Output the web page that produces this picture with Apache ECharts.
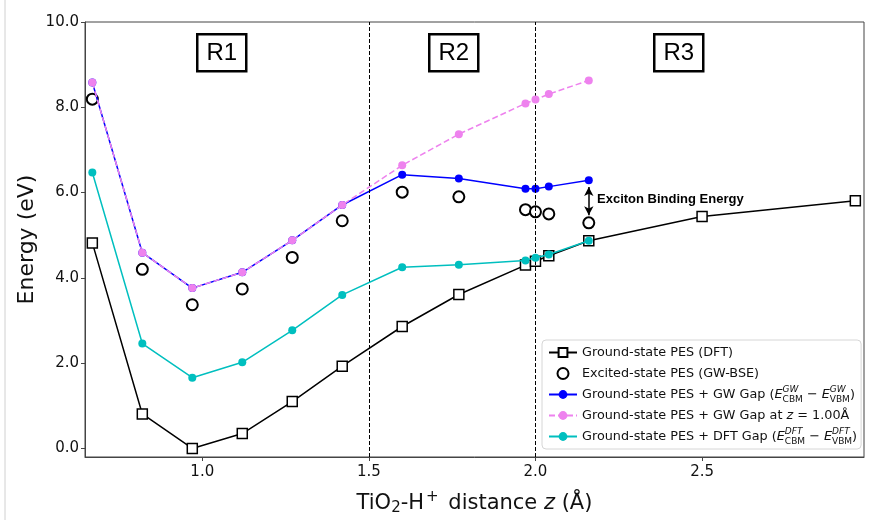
<!DOCTYPE html>
<html>
<head>
<meta charset="utf-8">
<script src="https://cdn.jsdelivr.net/npm/echarts@6/dist/echarts.min.js"></script>
<style>html,body{margin:0;padding:0;background:#fff}#c{width:875px;height:520px}</style>
</head>
<body>
<div id="c"></div>
<script>
// ---- data ----
const zValues = [0.67, 0.82, 0.97, 1.12, 1.27, 1.42, 1.60, 1.77, 1.97, 2.00, 2.04, 2.16, 2.50, 2.96];
const groundDFT = [4.82, 0.81, 0.00, 0.35, 1.10, 1.93, 2.86, 3.61, 4.30, 4.39, 4.52, 4.87, 5.44, 5.81];
const excitedGWBSE = [8.19, 4.20, 3.37, 3.74, 4.48, 5.34, 6.01, 5.90, 5.60, 5.55, 5.50, 5.29];
const groundPlusGW = [8.58, 4.59, 3.76, 4.13, 4.88, 5.71, 6.42, 6.33, 6.09, 6.09, 6.14, 6.29];
const groundPlusGWFixed = [8.58, 4.59, 3.76, 4.13, 4.88, 5.71, 6.64, 7.37, 8.09, 8.18, 8.31, 8.63];
const groundPlusDFT = [6.47, 2.46, 1.66, 2.02, 2.77, 3.60, 4.25, 4.31, 4.41, 4.47, 4.55, 4.87];
const xTicks = [1.0, 1.5, 2.0, 2.5];
const yTicks = [0, 2, 4, 6, 8, 10];
const regionBounds = [1.5, 2.0];
const regionNames = ['R1', 'R2', 'R3'];
const seriesNames = [
  'Ground-state PES (DFT)',
  'Excited-state PES (GW-BSE)',
  'Ground-state PES + GW Gap',
  'Ground-state PES + GW Gap at z',
  'Ground-state PES + DFT Gap'
];
const legendTexts = {
  [seriesNames[0]]: 'Ground-state PES (DFT)',
  [seriesNames[1]]: 'Excited-state PES (GW-BSE)',
  [seriesNames[2]]: 'Ground-state PES + GW Gap ({it|E}{sup|GW}{sub|CBM} − {it|E}{sup|GW}{sub|VBM})',
  [seriesNames[3]]: 'Ground-state PES + GW Gap at {it|z} = 1.00Å',
  [seriesNames[4]]: 'Ground-state PES + DFT Gap ({it|E}{sup|DFT}{sub|CBM} − {it|E}{sup|DFT}{sub|VBM})'
};
const pair = (ys) => ys.map((y, i) => [zValues[i], y]);

const FONT = 'DejaVu Sans';
const LFS = 12.8;
const chart = echarts.init(document.getElementById('c'), null, {renderer: 'canvas'});

const option = {
  animation: false,
  backgroundColor: '#fff',
  grid: {left: 85, right: 11, top: 22, bottom: 63, show: true, borderColor: '#444', borderWidth: 1,
    containLabel: false, outerBoundsMode: 'none'},
  xAxis: {
    type: 'value', min: 0.648, max: 2.986,
    axisLine: {show: true, onZero: false, lineStyle: {color: '#444', width: 1}},
    axisTick: {show: true, customValues: xTicks, length: 4, lineStyle: {color: '#444'}},
    axisLabel: {customValues: xTicks, color: '#111', fontFamily: FONT, fontSize: 15, margin: 8,
      formatter: v => v.toFixed(1)},
    splitLine: {show: false},
    name: 'TiO{sub|2}-H{sup|+} distance {it|z} (Å)',
    nameLocation: 'middle', nameGap: 33,
    nameTextStyle: {color: '#111', fontFamily: FONT, fontSize: 21,
      rich: {
        sub: {fontSize: 15, fontFamily: FONT, color: '#111', padding: [10, 0, 0, 0]},
        sup: {fontSize: 15, fontFamily: FONT, color: '#111', padding: [0, 3, 12, 2]},
        it: {fontSize: 21, fontFamily: FONT, fontStyle: 'italic', color: '#111'}
      }}
  },
  yAxis: {
    type: 'value', min: -0.2, max: 10,
    axisLine: {show: true, onZero: false, lineStyle: {color: '#444', width: 1}},
    axisTick: {show: true, customValues: yTicks, length: 4, lineStyle: {color: '#444'}},
    axisLabel: {customValues: yTicks, color: '#111', fontFamily: FONT, fontSize: 15, margin: 6,
      formatter: v => v.toFixed(1)},
    splitLine: {show: false},
    name: 'Energy (eV)', nameLocation: 'middle', nameGap: 47, nameMoveOverlap: false,
    nameTextStyle: {color: '#111', fontFamily: FONT, fontSize: 22}
  },
  legend: {
    orient: 'vertical', left: 542, top: 340,
    backgroundColor: '#fff', borderColor: '#d6d6d6', borderWidth: 1, borderRadius: 4,
    padding: [3, 4, 3, 6], itemGap: 2, itemWidth: 28, itemHeight: 11,
    data: seriesNames,
    formatter: n => legendTexts[n],
    textStyle: {fontFamily: FONT, fontSize: LFS, color: '#111', lineHeight: 19,
      rich: {
        it: {fontFamily: FONT, fontSize: LFS, fontStyle: 'italic', color: '#111'},
        sup: {fontFamily: FONT, fontSize: 9, fontStyle: 'italic', color: '#111', verticalAlign: 'top', width: 0, lineHeight: 19},
        sub: {fontFamily: FONT, fontSize: 9, color: '#111', verticalAlign: 'bottom', lineHeight: 19}
      }}
  },
  series: [
    {
      name: seriesNames[0], type: 'line', data: pair(groundDFT), z: 2,
      symbol: 'rect', symbolSize: 10,
      lineStyle: {color: '#000', width: 1.5},
      itemStyle: {color: '#fff', borderColor: '#000', borderWidth: 1.5},
      markLine: {
        silent: true, symbol: ['none', 'none'], label: {show: false},
        lineStyle: {color: '#000', type: [4, 2], width: 1},
        data: regionBounds.map(b => ({xAxis: b}))
      }
    },
    {
      name: seriesNames[1], type: 'scatter', data: pair(excitedGWBSE), z: 3,
      symbol: 'circle', symbolSize: 11,
      itemStyle: {color: '#fff', borderColor: '#000', borderWidth: 2, opacity: 1}
    },
    {
      name: seriesNames[2], type: 'line', data: pair(groundPlusGW), z: 4,
      symbol: 'circle', symbolSize: 8,
      lineStyle: {color: '#0000ff', width: 1.5},
      itemStyle: {color: '#0000ff', borderWidth: 0},
      markLine: {
        silent: true, symbol: ['arrow', 'arrow'], symbolSize: [7, 9], label: {show: false},
        lineStyle: {color: '#000', type: 'solid', width: 1.5},
        data: [[{coord: [2.16, 6.13]}, {coord: [2.16, 5.47]}]]
      }
    },
    {
      name: seriesNames[3], type: 'line', data: pair(groundPlusGWFixed), z: 5,
      symbol: 'circle', symbolSize: 8,
      lineStyle: {color: '#ee82ee', width: 1.5, type: [6, 3]},
      itemStyle: {color: '#ee82ee', borderWidth: 0}
    },
    {
      name: seriesNames[4], type: 'line', data: pair(groundPlusDFT), z: 6,
      symbol: 'circle', symbolSize: 8,
      lineStyle: {color: '#00bfbf', width: 1.5},
      itemStyle: {color: '#00bfbf', borderWidth: 0}
    }
  ],
  graphic: [
    {type: 'line', shape: {x1: 5, y1: 0, x2: 5, y2: 520}, style: {stroke: '#d0d0d0', lineWidth: 1}, silent: true},
    ...regionNames.map((r, i) => ({
      type: 'group', left: [196, 428, 653][i], top: 33, silent: true,
      children: [
        {type: 'rect', shape: {x: 0, y: 0, width: 49, height: 37}, style: {fill: '#fff', stroke: '#000', lineWidth: 2.5}},
        {type: 'text', x: 24.5, y: 19, style: {text: r, fontFamily: 'Liberation Sans', fontSize: 24, fill: '#000', align: 'center', verticalAlign: 'middle'}}
      ]
    })),
    {type: 'text', left: 597, top: 193, silent: true,
      style: {text: 'Exciton Binding Energy', fontFamily: 'Liberation Sans', fontWeight: 'bold', fontSize: 13, fill: '#000'}}
  ]
};
chart.setOption(option);
</script>
</body>
</html>
